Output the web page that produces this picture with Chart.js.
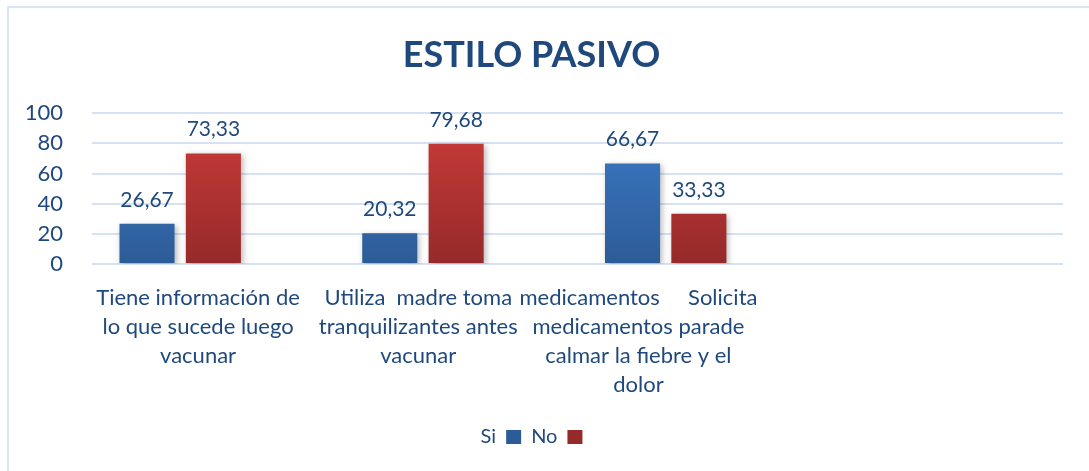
<!DOCTYPE html>
<html>
<head>
<meta charset="utf-8">
<script src="https://cdn.jsdelivr.net/npm/chart.js@4/dist/chart.umd.min.js"></script>
<style>
  html, body { margin: 0; padding: 0; background: #fff; }
  #wrap { position: relative; width: 1089px; height: 471px; overflow: hidden; }
  #frame { position: absolute; left: 7px; top: 6px; width: 1200px; height: 600px;
           border-left: 2px solid #dae5f4; border-top: 2px solid #dae5f4; }
  canvas { position: absolute; left: 0; top: 0; }
</style>
</head>
<body>
<div id="wrap">
  <div id="frame"></div>
  <canvas id="chart" width="1089" height="471"></canvas>
</div>
<script>
// valores
const categories = [
    ["Tiene información de", "lo que sucede luego", "vacunar"],
    ["Utiliza  madre toma", "tranquilizantes antes", "vacunar"],
    ["medicamentos     Solicita", "medicamentos parade", "calmar la fiebre y el", "dolor"],
    [""]
];
const siValues = [26.67, 20.32, 66.67, null];
const noValues = [73.33, 79.68, 33.33, null];
const extraValues = [null, null, null, null]; // tercera serie vacia (ocupa espacio)
const yTicks = [0, 20, 40, 60, 80, 100];

const textColor = '#1f497d';
const font = "Lato, 'Open Sans', sans-serif";

function gradient(ctx, top, bottom) {
    const chart = ctx.chart;
    const area = chart.chartArea;
    if (!area) return top;
    const g = chart.ctx.createLinearGradient(0, area.top, 0, area.bottom);
    g.addColorStop(0, top);
    g.addColorStop(1, bottom);
    return g;
}

// sombra suave de las barras
const barShadow = {
    id: 'barShadow',
    beforeDatasetsDraw(chart) {
        const c = chart.ctx;
        c.save();
        c.shadowColor = 'rgba(0,0,0,0.28)';
        c.shadowBlur = 6;
        c.shadowOffsetX = 2;
        c.shadowOffsetY = 2;
    },
    afterDatasetsDraw(chart) {
        chart.ctx.restore();
    }
};

// etiquetas de valor encima de cada barra
const valueLabels = {
    id: 'valueLabels',
    afterDatasetsDraw(chart) {
        const c = chart.ctx;
        c.save();
        c.font = '21px ' + font;
        c.fillStyle = textColor;
        c.textAlign = 'center';
        c.textBaseline = 'alphabetic';
        chart.data.datasets.forEach((ds, di) => {
            chart.getDatasetMeta(di).data.forEach((bar, i) => {
                const v = ds.data[i];
                if (v == null) return;
                c.fillText(v.toFixed(2).replace('.', ','), bar.x, bar.y - 17);
            });
        });
        c.restore();
    }
};

// etiquetas del eje x (como en el original, algo desplazadas)
const categoryLabels = {
    id: 'categoryLabels',
    afterDraw(chart) {
        const area = chart.chartArea;
        const c = chart.ctx;
        const slot = (area.right - area.left) / 4.41;
        c.save();
        c.font = '22px ' + font;
        c.fillStyle = textColor;
        c.textAlign = 'center';
        c.textBaseline = 'middle';
        chart.data.labels.forEach((lines, i) => {
            const x = area.left - 4 + (i + 0.5) * slot;
            lines.forEach((line, li) => {
                c.fillText(line, x, area.bottom + 34 + li * 29);
            });
        });
        c.restore();
    }
};

const ctx = document.getElementById('chart');

new Chart(ctx, {
    type: 'bar',
    data: {
        labels: categories,
        datasets: [{
            label: 'Si',
            data: siValues,
            backgroundColor: c => gradient(c, '#3d7cc9', '#2c5c97'),
            categoryPercentage: 0.82,
            barPercentage: 0.83
        }, {
            label: 'No',
            data: noValues,
            backgroundColor: c => gradient(c, '#cd3c39', '#952a2a'),
            categoryPercentage: 0.82,
            barPercentage: 0.83
        }, {
            label: '',
            data: extraValues,
            backgroundColor: '#9bbb59',
            categoryPercentage: 0.82,
            barPercentage: 0.83
        }]
    },
    options: {
        responsive: false,
        animation: false,
        layout: { padding: { left: 0, right: 26, top: 0, bottom: 14 } },
        plugins: {
            title: {
                display: true,
                text: 'ESTILO PASIVO',
                color: textColor,
                font: { family: font, size: 36, weight: 'bold' },
                padding: { top: 34, bottom: 36 }
            },
            legend: {
                position: 'bottom',
                rtl: true,
                reverse: true,
                labels: {
                    filter: item => item.text !== '',
                    color: textColor,
                    font: { family: font, size: 20 },
                    boxWidth: 15,
                    boxHeight: 14,
                    padding: 10
                }
            },
            tooltip: { enabled: false }
        },
        scales: {
            x: {
                grid: { display: false },
                border: { display: false },
                ticks: { display: false },
                afterFit: s => { s.height = 153; }
            },
            y: {
                min: 0,
                max: 100,
                afterBuildTicks: s => { s.ticks = yTicks.map(v => ({ value: v })); },
                grid: { color: '#d6e2f2', lineWidth: 2, drawTicks: false },
                border: { display: false },
                ticks: {
                    color: textColor,
                    font: { family: font, size: 22 },
                    padding: 29
                },
                afterFit: s => { s.width = 92; }
            }
        }
    },
    plugins: [barShadow, valueLabels, categoryLabels]
});
</script>
</body>
</html>
